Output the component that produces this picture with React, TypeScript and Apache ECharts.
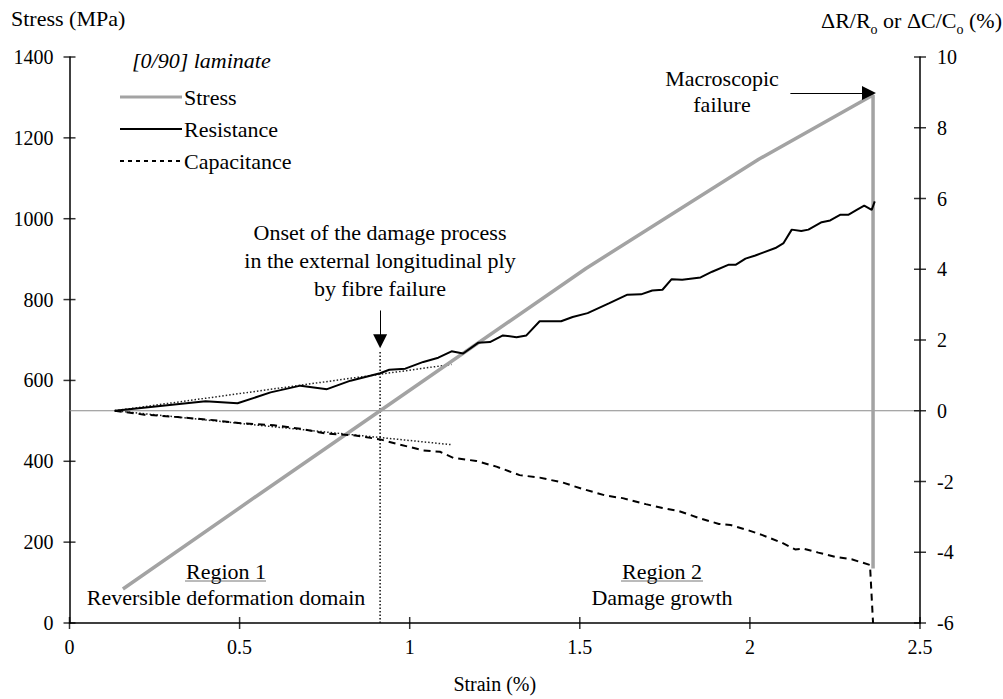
import React, { useEffect, useRef } from 'react';
import * as echarts from 'echarts';

const FONT = 'Liberation Serif, Times New Roman, serif';

// Strain (%) vs Stress (MPa)
const stressData: number[][] = [
  [0.157, 84], [0.562, 321], [0.913, 525], [1.518, 877], [2.026, 1147], [2.362, 1306], [2.362, 135],
];

// Strain (%) vs ΔR/Ro (%)
const resistanceData: number[][] = [
  [0.133, 0], [0.40, 0.27], [0.494, 0.21], [0.591, 0.52], [0.679, 0.71], [0.757, 0.61], [0.826, 0.85],
  [0.913, 1.06], [0.94, 1.16], [0.987, 1.19], [1.04, 1.38], [1.084, 1.5], [1.123, 1.68], [1.157, 1.62],
  [1.201, 1.92], [1.236, 1.94], [1.274, 2.13], [1.314, 2.08], [1.343, 2.13], [1.382, 2.53], [1.445, 2.53],
  [1.479, 2.65], [1.523, 2.76], [1.587, 3.04], [1.64, 3.28], [1.68, 3.29], [1.713, 3.4], [1.743, 3.42],
  [1.77, 3.72], [1.801, 3.7], [1.855, 3.77], [1.889, 3.93], [1.938, 4.13], [1.959, 4.13], [1.987, 4.3],
  [2.016, 4.39], [2.075, 4.6], [2.099, 4.74], [2.123, 5.12], [2.151, 5.08], [2.172, 5.12], [2.211, 5.33],
  [2.236, 5.38], [2.265, 5.54], [2.289, 5.54], [2.314, 5.68], [2.336, 5.8], [2.358, 5.68], [2.367, 5.92],
];

// Strain (%) vs ΔC/Co (%)
const capacitanceData: number[][] = [
  [0.133, 0], [0.22, -0.11], [0.318, -0.18], [0.406, -0.25], [0.504, -0.35], [0.601, -0.41], [0.679, -0.51],
  [0.757, -0.65], [0.835, -0.69], [0.913, -0.81], [0.972, -0.96], [1.04, -1.12], [1.089, -1.16], [1.128, -1.33],
  [1.196, -1.42], [1.255, -1.58], [1.323, -1.82], [1.382, -1.89], [1.45, -2.03], [1.508, -2.21], [1.577, -2.4],
  [1.626, -2.47], [1.694, -2.64], [1.743, -2.75], [1.792, -2.84], [1.85, -3.03], [1.909, -3.2], [1.943, -3.23],
  [1.996, -3.38], [2.035, -3.51], [2.094, -3.73], [2.133, -3.92], [2.157, -3.9], [2.201, -4.01], [2.25, -4.13],
  [2.299, -4.2], [2.353, -4.36], [2.362, -6],
];

const resistanceTangent: number[][] = [[0.133, 0], [1.123, 1.31]];
const capacitanceTangent: number[][] = [[0.133, 0], [1.123, -0.96]];
const zeroLine: number[][] = [[0, 0], [2.5, 0]];
const onsetLine: number[][] = [[0.913, 0], [0.913, 672]];
const onsetArrow: number[][] = [[0.913, 773], [0.913, 697]];
const failureArrow: number[][] = [[2.119, 1311], [2.35, 1311]];

// tick values
const strainTicks: number[] = [0, 0.5, 1, 1.5, 2, 2.5];
const stressTicks: number[] = [0, 200, 400, 600, 800, 1000, 1200, 1400];
const ratioTicks: number[] = [-6, -4, -2, 0, 2, 4, 6, 8, 10];

const strainRange = { min: 0, max: 2.5, interval: 0.5 };
const stressRange = { min: 0, max: 1400, interval: 200 };
const ratioRange = { min: -6, max: 10, interval: 2 };

const legendNames = ['Stress', 'Resistance', 'Capacitance'];
const STRESS_COLOR = '#a3a3a3';

const axisLine = { show: true, onZero: false, lineStyle: { color: '#000', width: 1.5 } };
const labelStyle = { fontFamily: FONT, fontSize: 20, color: '#000' };
const plain = (v: number) => String(v);

export default function App() {
  const ref = useRef<HTMLDivElement>(null);
  useEffect(() => {
    if (!ref.current) return;
    const chart = echarts.init(ref.current, null, { renderer: 'svg' });
    const txt = (text: string, x: number, y: number, extra: any = {}) => ({
      type: 'text',
      x,
      y,
      silent: true,
      style: {
        text,
        fontFamily: FONT,
        fontSize: 22,
        fill: '#000',
        align: 'center',
        verticalAlign: 'middle',
        ...extra,
      },
    });
    const legendLine = (y: number, stroke: string, lineWidth: number, lineDash: any) => ({
      type: 'line',
      silent: true,
      shape: { x1: 120, y1: y, x2: 182, y2: y },
      style: { stroke, lineWidth, lineDash },
    });
    const tickSeries = (name: string, yAxisIndex: number, data: number[][], size: number[]) => ({
      name, type: 'scatter', xAxisIndex: 0, yAxisIndex, data,
      symbol: 'rect', symbolSize: size, clip: false, silent: true,
      itemStyle: { color: '#000' }, z: 10,
    });
    const option: any = {
      animation: false,
      backgroundColor: '#fff',
      grid: { left: 69.5, right: 83, top: 57, bottom: 73 },
      xAxis: [
        {
          type: 'value', position: 'bottom', ...strainRange,
          axisLine, axisTick: { show: false },
          axisLabel: { ...labelStyle, margin: 14, formatter: plain },
          splitLine: { show: false },
          name: 'Strain (%)', nameLocation: 'middle', nameGap: 51,
          nameTextStyle: { ...labelStyle },
        },
      ],
      yAxis: [
        {
          type: 'value', position: 'left', ...stressRange,
          axisLine, axisTick: { show: false },
          axisLabel: { ...labelStyle, margin: 16, formatter: plain },
          splitLine: { show: false },
        },
        {
          type: 'value', position: 'right', ...ratioRange,
          axisLine, axisTick: { show: false },
          axisLabel: { ...labelStyle, margin: 17, formatter: plain },
          splitLine: { show: false },
        },
      ],
      series: [
        {
          name: 'Zero', type: 'line', xAxisIndex: 0, yAxisIndex: 1, data: zeroLine,
          symbol: 'none', silent: true, lineStyle: { color: '#8a8a8a', width: 1 }, z: 1,
        },
        {
          name: legendNames[0], type: 'line', xAxisIndex: 0, yAxisIndex: 0, data: stressData,
          symbol: 'none', color: STRESS_COLOR, lineStyle: { color: STRESS_COLOR, width: 3.5 }, z: 3,
        },
        {
          name: legendNames[1], type: 'line', xAxisIndex: 0, yAxisIndex: 1, data: resistanceData,
          symbol: 'none', color: '#000', lineStyle: { color: '#000', width: 2 }, z: 4,
        },
        {
          name: legendNames[2], type: 'line', xAxisIndex: 0, yAxisIndex: 1, data: capacitanceData,
          symbol: 'none', color: '#000', lineStyle: { color: '#000', width: 2, type: [7, 5] }, z: 4,
        },
        {
          name: 'ResTangent', type: 'line', xAxisIndex: 0, yAxisIndex: 1, data: resistanceTangent,
          symbol: 'none', silent: true, lineStyle: { color: '#222', width: 1.5, type: [1.5, 2] }, z: 2,
        },
        {
          name: 'CapTangent', type: 'line', xAxisIndex: 0, yAxisIndex: 1, data: capacitanceTangent,
          symbol: 'none', silent: true, lineStyle: { color: '#222', width: 1.5, type: [1.5, 2] }, z: 2,
        },
        {
          name: 'Onset', type: 'line', xAxisIndex: 0, yAxisIndex: 0, data: onsetLine,
          symbol: 'none', silent: true, lineStyle: { color: '#111', width: 1.5, type: [1.5, 2] }, z: 2,
          markLine: {
            silent: true,
            label: { show: false },
            lineStyle: { color: '#000', width: 1, type: 'solid' },
            data: [
              [
                { coord: onsetArrow[0], symbol: 'none' },
                { coord: onsetArrow[1], symbol: 'triangle', symbolSize: [14, 14] },
              ],
            ],
          },
        },
        {
          name: 'Failure', type: 'line', xAxisIndex: 0, yAxisIndex: 0, data: [],
          symbol: 'none', silent: true,
          markLine: {
            silent: true,
            label: { show: false },
            lineStyle: { color: '#000', width: 1, type: 'solid' },
            data: [
              [
                { coord: failureArrow[0], symbol: 'none' },
                { coord: failureArrow[1], symbol: 'triangle', symbolSize: [14, 14] },
              ],
            ],
          },
        },
        tickSeries('XTicks', 0, strainTicks.map((v) => [v, stressRange.min]), [1.5, 12]),
        tickSeries('LeftTicks', 0, stressTicks.map((v) => [strainRange.min, v]), [12, 1.5]),
        tickSeries('RightTicks', 1, ratioTicks.map((v) => [strainRange.max, v]), [12, 1.5]),
      ],
      graphic: [
        txt('Stress (MPa)', 11, 18, { align: 'left' }),
        {
          type: 'text', x: 1002, y: 18, silent: true,
          style: {
            text: '{a|ΔR/R}{s|o}{a| or ΔC/C}{s|o}{a| (%)}',
            align: 'right', verticalAlign: 'middle',
            rich: {
              a: { fontFamily: FONT, fontSize: 22, fill: '#000', lineHeight: 26, verticalAlign: 'bottom' },
              s: { fontFamily: FONT, fontSize: 14, fill: '#000', lineHeight: 26, verticalAlign: 'bottom', padding: [0, 0, -5, 0] },
            },
          },
        },
        txt('[0/90] laminate', 132, 60, { align: 'left', fontStyle: 'italic' }),
        legendLine(97, STRESS_COLOR, 3, null),
        legendLine(129, '#000', 2, null),
        legendLine(161, '#000', 2, [4, 4]),
        txt(legendNames[0], 184, 97, { align: 'left' }),
        txt(legendNames[1], 184, 129, { align: 'left' }),
        txt(legendNames[2], 184, 161, { align: 'left' }),
        txt('Onset of the damage process', 380, 232),
        txt('in the external longitudinal ply', 380, 260),
        txt('by fibre failure', 380, 288),
        txt('Macroscopic', 722, 78),
        txt('failure', 722, 104),
        txt('Region 1', 226, 571),
        { type: 'line', silent: true, shape: { x1: 185, y1: 581, x2: 266, y2: 581 }, style: { stroke: '#777', lineWidth: 1 } },
        txt('Reversible deformation domain', 226, 597),
        txt('Region 2', 662, 571),
        { type: 'line', silent: true, shape: { x1: 621, y1: 581, x2: 703, y2: 581 }, style: { stroke: '#777', lineWidth: 1 } },
        txt('Damage growth', 662, 597),
      ],
    };
    chart.setOption(option);
    return () => chart.dispose();
  }, []);
  return (
    <div
      ref={ref}
      style={{ position: 'fixed', left: 0, top: 0, width: 1003, height: 699, background: '#fff' }}
    />
  );
}
